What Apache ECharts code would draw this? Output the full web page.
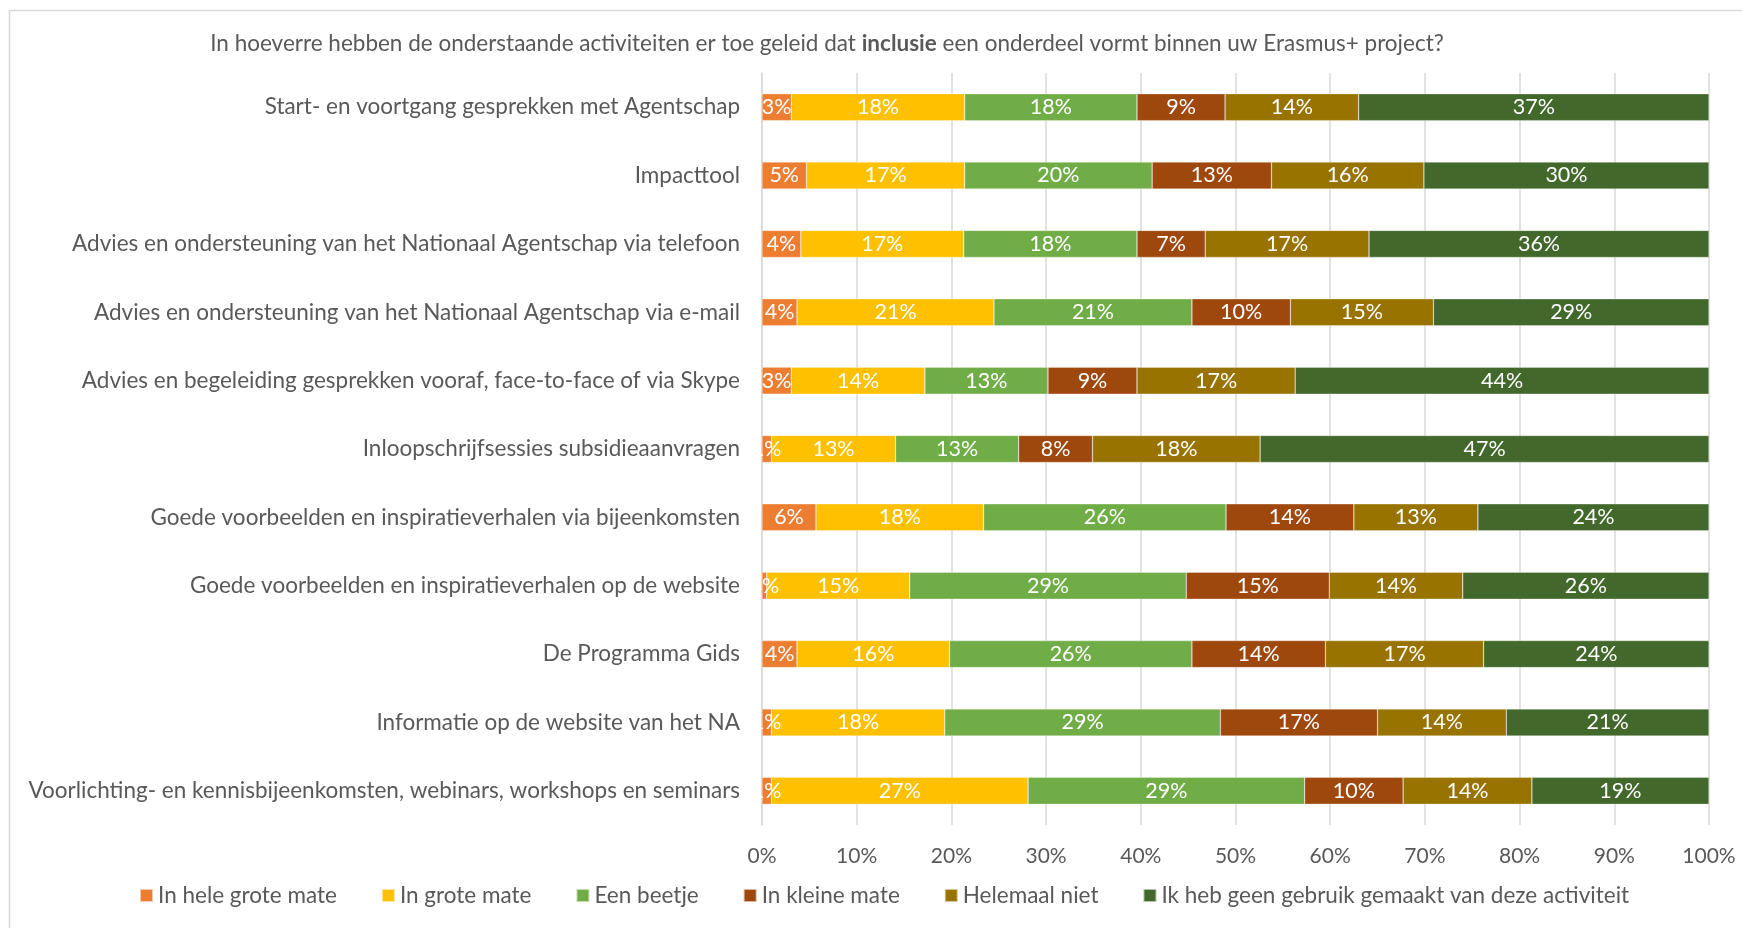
<!DOCTYPE html>
<html>
<head>
<meta charset="utf-8">
<script src="https://cdn.jsdelivr.net/npm/echarts@6/dist/echarts.min.js"></script>
<style>html,body{margin:0;padding:0;background:#fff}#c{width:1742px;height:928px}</style>
</head>
<body>
<div id="c"></div>
<script>
const categories = [
  'Start- en voortgang gesprekken met Agentschap',
  'Impacttool',
  'Advies en ondersteuning van het Nationaal Agentschap via telefoon',
  'Advies en ondersteuning van het Nationaal Agentschap via e-mail',
  'Advies en begeleiding gesprekken vooraf, face-to-face of via Skype',
  'Inloopschrijfsessies subsidieaanvragen',
  'Goede voorbeelden en inspiratieverhalen via bijeenkomsten',
  'Goede voorbeelden en inspiratieverhalen op de website',
  'De Programma Gids',
  'Informatie op de website van het NA',
  'Voorlichting- en kennisbijeenkomsten, webinars, workshops en seminars'
];
const seriesNames = ['In hele grote mate','In grote mate','Een beetje','In kleine mate','Helemaal niet','Ik heb geen gebruik gemaakt van deze activiteit'];
const heleGroteMate = [3.1, 4.7, 4.1, 3.7, 3.1, 1.0, 5.7, 0.5, 3.7, 1.0, 1.0];
const groteMate     = [18.3, 16.7, 17.2, 20.8, 14.1, 13.1, 17.7, 15.1, 16.1, 18.3, 27.1];
const eenBeetje     = [18.2, 19.8, 18.3, 20.9, 13.0, 13.0, 25.6, 29.2, 25.6, 29.1, 29.2];
const kleineMate    = [9.3, 12.6, 7.2, 10.4, 9.4, 7.8, 13.5, 15.1, 14.1, 16.6, 10.4];
const helemaalNiet  = [14.1, 16.1, 17.3, 15.1, 16.7, 17.7, 13.1, 14.1, 16.7, 13.6, 13.6];
const geenGebruik   = [37.0, 30.1, 35.9, 29.1, 43.7, 47.4, 24.4, 26.0, 23.8, 21.4, 18.7];
const tickLabels = ['0%','10%','20%','30%','40%','50%','60%','70%','80%','90%','100%'];

const values = [heleGroteMate, groteMate, eenBeetje, kleineMate, helemaalNiet, geenGebruik];
const colors = ['#ED7D31','#FFC000','#70AD47','#9E480E','#997300','#43682B'];
const FONT = 'Lato';

const chart = echarts.init(document.getElementById('c'));
chart.setOption({
  animation: false,
  textStyle: { fontFamily: FONT },
  title: {
    text: 'In hoeverre hebben de onderstaande activiteiten er toe geleid dat {b|inclusie} een onderdeel vormt binnen uw Erasmus+ project?',
    left: 822, top: 27, textAlign: 'center',
    textStyle: {
      fontFamily: FONT, fontSize: 22.5, fontWeight: 'normal', color: '#595959',
      rich: { b: { fontFamily: FONT, fontSize: 22.5, fontWeight: 'bold', color: '#595959' } }
    }
  },
  graphic: [{
    type: 'rect', left: 7, top: 8, silent: true,
    shape: { width: 1800, height: 1000 },
    style: { fill: 'none', stroke: '#d9d9d9', lineWidth: 1.5 }
  }],
  legend: {
    data: seriesNames, left: 134, top: 879,
    icon: 'rect', itemWidth: 13, itemHeight: 13, itemGap: 44,
    textStyle: { fontFamily: FONT, fontSize: 22.5, color: '#595959', padding: [0,0,0,0] }
  },
  grid: { left: 762, right: 33, top: 73, bottom: 103, containLabel: false },
  xAxis: {
    type: 'value', min: 0, max: 100, interval: 10,
    axisLine: { show: false }, axisTick: { show: false },
    axisLabel: { fontFamily: FONT, fontSize: 21, color: '#595959', margin: 21,
      formatter: (v) => tickLabels[Math.round(v / 10)] },
    splitLine: { lineStyle: { color: '#d9d9d9', width: 1.5 } }
  },
  yAxis: {
    type: 'category', data: categories, inverse: true,
    axisLine: { show: true, lineStyle: { color: '#d9d9d9', width: 1.5 } },
    axisTick: { show: false },
    axisLabel: { fontFamily: FONT, fontSize: 22.5, color: '#595959', margin: 22 }
  },
  series: seriesNames.map((name, i) => ({
    name, type: 'bar', stack: 'total', data: values[i], barWidth: 27,
    itemStyle: { color: colors[i], borderColor: 'rgba(255,255,255,0.6)', borderWidth: 0.5 },
    label: { show: true, position: 'inside', color: '#fff', fontFamily: FONT, fontSize: 21.5,
      formatter: (p) => Math.round(p.value) + '%' }
  }))
});
</script>
</body>
</html>
